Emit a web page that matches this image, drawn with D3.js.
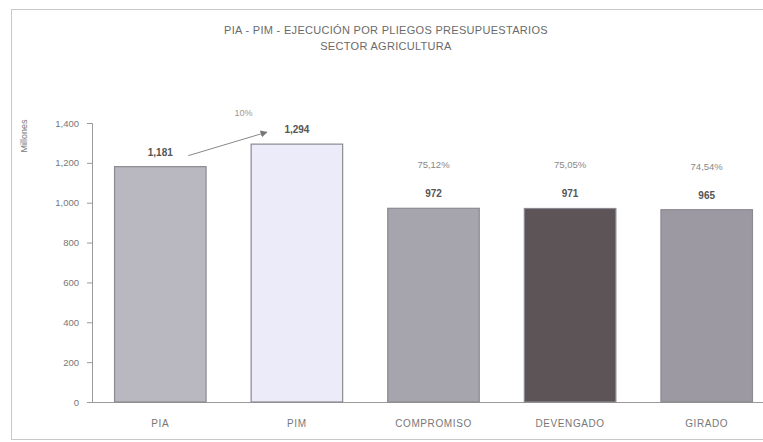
<!DOCTYPE html>
<html><head><meta charset="utf-8">
<script src="https://cdn.jsdelivr.net/npm/d3@7/dist/d3.min.js"></script>
<style>body{margin:0;background:#fff}svg{display:block}text{font-family:"Liberation Sans",Arial,sans-serif}</style>
</head><body><svg id="c" width="763" height="442"></svg>
<script>
const categories = ["PIA", "PIM", "COMPROMISO", "DEVENGADO", "GIRADO"];
const values = [1181, 1294, 972, 971, 965];
const valueLabels = ["1,181", "1,294", "972", "971", "965"];
const percentLabels = [null, null, "75,12%", "75,05%", "74,54%"];
const growthLabel = "10%";
const barColors = ["#b9b8c0", "#ebebf9", "#a6a5ad", "#5c5457", "#9d99a3"];
const yTicks = [0, 200, 400, 600, 800, 1000, 1200, 1400];
const titleLines = ["PIA - PIM - EJECUCIÓN POR PLIEGOS PRESUPUESTARIOS", "SECTOR AGRICULTURA"];

const rows = categories.map((c,i)=>({cat:c, v:values[i], lab:valueLabels[i], pct:percentLabels[i], col:barColors[i]}));

const svg = d3.select("#c");
svg.append("rect").attr("x",11.5).attr("y",9.5).attr("width",760).attr("height",430)
  .attr("fill","none").attr("stroke","#c8c8c8");

const x = d3.scaleBand().domain(categories).range([92, 775]).paddingInner(0.33).paddingOuter(0.165);
const y = d3.scaleLinear().domain([0, 1400]).range([402, 123]);
const cx = d => x(d.cat) + x.bandwidth()/2;

svg.append("g").selectAll("text").data(titleLines).join("text")
  .attr("x", 386).attr("y", (d,i)=>34 + i*16).attr("text-anchor","middle")
  .attr("font-size", 11).attr("fill","#6a6a6a").attr("letter-spacing", 0.3).text(d=>d);

const ya = svg.append("g").attr("transform","translate(92,0)")
  .call(d3.axisLeft(y).tickValues(yTicks).tickSize(5).tickPadding(8).tickFormat(d3.format(",")));
ya.select(".domain").attr("stroke","#9a9a9a");
ya.selectAll(".tick line").attr("stroke","#9a9a9a");
ya.selectAll("text").attr("font-size",9.5).attr("fill","#777").attr("font-family","Liberation Sans, Arial, sans-serif");

svg.append("text").attr("transform","translate(27,136) rotate(-90)").attr("text-anchor","middle")
  .attr("font-size",9).attr("fill","#777").text("Millones");

svg.append("line").attr("x1",92).attr("x2",763).attr("y1",402.5).attr("y2",402.5).attr("stroke","#9a9a9a");

svg.append("g").selectAll("rect").data(rows).join("rect")
  .attr("x",d=>x(d.cat)).attr("y",d=>y(d.v))
  .attr("width",x.bandwidth()).attr("height",d=>y(0)-y(d.v))
  .attr("fill",d=>d.col).attr("stroke","#8a8a90").attr("stroke-width",1.2);

svg.append("g").selectAll("text").data(rows).join("text")
  .attr("x",cx).attr("y",d=>y(d.v)-11)
  .attr("text-anchor","middle").attr("font-size",10).attr("font-weight","bold").attr("fill","#555")
  .text(d=>d.lab);

svg.append("g").selectAll("text").data(rows.filter(d=>d.pct)).join("text")
  .attr("x",cx).attr("y",d=>y(d.v)-40)
  .attr("text-anchor","middle").attr("font-size",9.5).attr("fill","#888")
  .text(d=>d.pct);

const defs = svg.append("defs");
defs.append("marker").attr("id","arr").attr("viewBox","0 0 10 10").attr("refX",9).attr("refY",5)
  .attr("markerWidth",7).attr("markerHeight",7).attr("orient","auto")
  .append("path").attr("d","M0,0L10,5L0,10z").attr("fill","#777");
const x0 = cx(rows[0]) + 28, y0 = y(rows[0].v) - 11;
const x1 = cx(rows[1]) - 30, y1 = y(rows[1].v) - 12;
svg.append("line").attr("x1",x0).attr("y1",y0).attr("x2",x1).attr("y2",y1)
  .attr("stroke","#888").attr("stroke-width",1).attr("marker-end","url(#arr)");
svg.append("text").attr("x",(x0+x1)/2+16).attr("y",y1-16).attr("text-anchor","middle")
  .attr("font-size",9).attr("fill","#999").text(growthLabel);

svg.append("g").selectAll("text").data(categories).join("text")
  .attr("x",d=>x(d)+x.bandwidth()/2).attr("y",427).attr("text-anchor","middle")
  .attr("font-size",10).attr("fill","#777").attr("letter-spacing",0.6).text(d=>d);
</script></body></html>
